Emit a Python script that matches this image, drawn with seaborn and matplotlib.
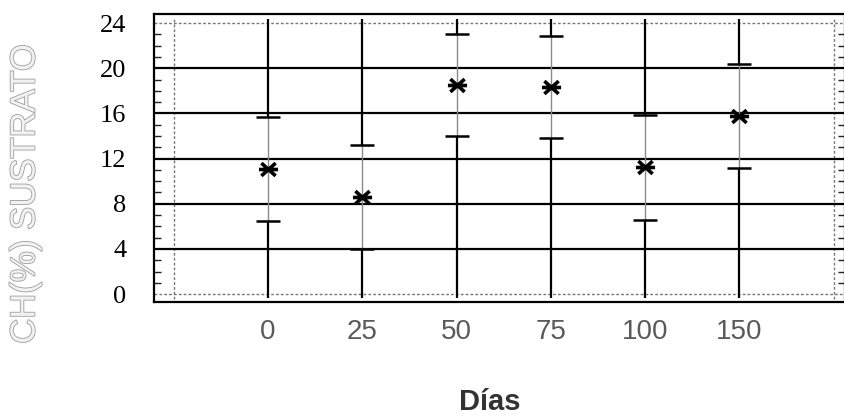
import numpy as np
import pandas as pd
import matplotlib
matplotlib.use("Agg")
import matplotlib.pyplot as plt
import matplotlib.patheffects as pe
from matplotlib.path import Path
from matplotlib.ticker import MultipleLocator
import seaborn as sns

# ---- data ----
dias = ["0", "25", "50", "75", "100", "150"]
ch_mean = [11.1, 8.6, 18.5, 18.35, 11.25, 15.8]
ch_err = [4.6, 4.6, 4.5, 4.5, 4.65, 4.6]
y_ticks = [0, 4, 8, 12, 16, 20, 24]

sns.set_theme(style="white")
plt.rcParams["font.family"] = ["Liberation Sans", "DejaVu Sans"]

df = pd.DataFrame({"Dias": dias, "CH": ch_mean, "err": ch_err})
pos = np.arange(len(dias))
lower = df["CH"] - df["err"]
upper = df["CH"] + df["err"]

# asterisk-like marker: X with a horizontal bar
c, s_ = np.cos(np.radians(42)), np.sin(np.radians(42))
star = Path([(-1, 0), (1, 0), (-c, -s_), (c, s_), (-c, s_), (c, -s_)],
            [Path.MOVETO, Path.LINETO] * 3)

fig = plt.figure(figsize=(8.44, 4.19), dpi=100)
ax = fig.add_axes([154 / 844, 1 - 302 / 419, 1 - 154 / 844 + 0.001, 288 / 419])

ymin, ymax = -0.7, 24.8
xmin, xmax = -1.21, 6.12

# inner dotted frame
for yv in (y_ticks[0], y_ticks[-1]):
    ax.axhline(yv, color="#777777", lw=1.0, ls=(0, (2, 1.5)), zorder=1)
for xv in (pos[0] - 1, pos[-1] + 1):
    ax.vlines(xv, -0.4, 24.4, color="#777777", lw=1.0, ls=(0, (2, 1.5)), zorder=1)

# solid horizontal grid
for yv in y_ticks[1:-1]:
    ax.axhline(yv, color="black", lw=1.6, zorder=2)

# vertical category lines: solid outside the error range
ax.vlines(pos, -0.35, lower, color="black", lw=1.6, zorder=2)
ax.vlines(pos, upper, 24.4, color="black", lw=1.6, zorder=2)

# error bars: dotted stem, black caps
ax.errorbar(pos, df["CH"], yerr=df["err"], fmt="none", ecolor="#8a8a8a",
            elinewidth=1.0, capsize=0, linestyle=":", zorder=3)
ax.errorbar(pos, df["CH"], yerr=df["err"], fmt="none", ecolor="black",
            elinewidth=0, capsize=8.3, capthick=1.8, zorder=4)

sns.scatterplot(data=df, x="Dias", y="CH", marker=star, s=190,
                color="black", linewidth=2.6, edgecolor="black", ax=ax, zorder=5)

ax.set_xlim(xmin, xmax)
ax.set_ylim(ymin, ymax)

ax.set_yticks(y_ticks)
ax.yaxis.set_minor_locator(MultipleLocator(1))
ax.set_yticklabels([str(v) for v in y_ticks], fontsize=19,
                   family=["Liberation Serif", "DejaVu Serif"], color="black")
ax.set_xticks(pos)
ax.set_xticklabels(dias, fontsize=20, color="#5a5a5a")
ax.tick_params(axis="x", length=0, pad=12)
ax.tick_params(axis="y", which="major", length=0, pad=20)
ax.tick_params(axis="y", which="minor", left=True, right=True, direction="in",
               length=5, width=1.0, color="#222222")

for s in ("left", "top", "bottom", "right"):
    ax.spines[s].set_color("black")
    ax.spines[s].set_linewidth(1.6)

ax.set_xlabel("")
ax.set_ylabel("")
fig.text(490 / 844, 1 - 402 / 419, "Días", fontsize=21, fontweight="bold",
         color="#333333", ha="center", va="center")
fig.text(25 / 844, 1 - 194 / 419, "CH(%) SUSTRATO", rotation=90, fontsize=25,
         color="#f2f2f2", ha="center", va="center",
         path_effects=[pe.withStroke(linewidth=1.2, foreground="#9c9c9c")])

fig.savefig("out.png", dpi=100)
